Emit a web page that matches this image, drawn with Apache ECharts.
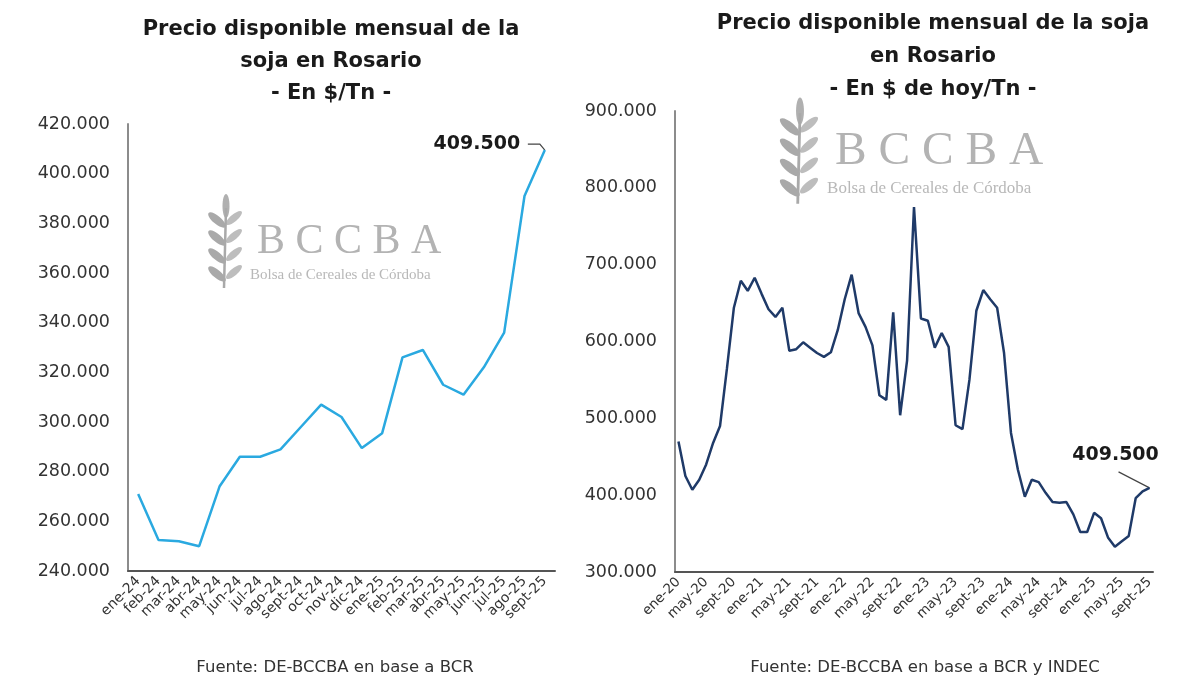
<!DOCTYPE html>
<html>
<head>
<meta charset="utf-8">
<script src="https://cdn.jsdelivr.net/npm/echarts@6/dist/echarts.min.js"></script>
<style>
  html, body { margin: 0; background: #fff; }
  #chart { width: 1200px; height: 686px; }
</style>
</head>
<body>
<div id="chart"></div>
<script>
// panel izquierdo: $/Tn nominal, ene-24 a sept-25
var mesesNominal = ['ene-24', 'feb-24', 'mar-24', 'abr-24', 'may-24', 'jun-24', 'jul-24', 'ago-24', 'sept-24', 'oct-24', 'nov-24', 'dic-24',
  'ene-25', 'feb-25', 'mar-25', 'abr-25', 'may-25', 'jun-25', 'jul-25', 'ago-25', 'sept-25'];
var precioNominal = [271000, 252500, 252000, 250000, 274000, 286000, 286000, 289000, 298000, 307000, 302000, 289500,
  295500, 326000, 329000, 315000, 311000, 322000, 336000, 391000, 409500];

// panel derecho: $ de hoy/Tn, ene-20 a sept-25
var nombresMes = ['ene', 'feb', 'mar', 'abr', 'may', 'jun', 'jul', 'ago', 'sept', 'oct', 'nov', 'dic'];
var mesesReal = [];
for (var a = 20; a <= 25; a++) {
  for (var m = 0; m < 12; m++) {
    if (a == 25 && m > 8) break;
    mesesReal.push(nombresMes[m] + '-' + a);
  }
}
var precioReal = [470000, 425000, 407000, 420000, 440000, 468000, 490000, 565000, 644000, 679000,
  666000, 683000, 662000, 642000, 632000, 644000, 588000, 590000, 599000, 592000,
  585000, 580000, 586000, 615000, 655000, 687000, 637000, 619000, 595000, 530000,
  524000, 638000, 504000, 575000, 775000, 630000, 627000, 592000, 611000, 593000,
  491000, 486000, 550000, 640000, 667000, 655000, 644000, 585000, 481000, 433000,
  398000, 420000, 417000, 403000, 391000, 390000, 391000, 375000, 352000, 352000,
  377000, 370000, 345000, 333000, 340000, 347000, 396000, 405000, 409500];

var fuente = 'DejaVu Sans';

function miles(v) {
  return String(Math.round(v)).replace(/\B(?=(\d{3})+(?!\d))/g, '.');
}

// ultimo punto con etiqueta
function conEtiqueta(datos) {
  return datos.map(function (v, i) {
    if (i < datos.length - 1) return v;
    return { value: v, label: { show: true } };
  });
}

// logo de fondo (espiga + texto)
function logo(x, y, s) {
  var hijos = [];
  for (var k = 0; k < 4; k++) {
    var yy = y + 22 * s + k * 18 * s;
    hijos.push({ type: 'ellipse', shape: { cx: x - 9 * s, cy: yy, rx: 11 * s, ry: 4 * s }, rotation: -0.7, originX: x - 9 * s, originY: yy, style: { fill: '#a9a9a9' } });
    hijos.push({ type: 'ellipse', shape: { cx: x + 8 * s, cy: yy - 2 * s, rx: 10 * s, ry: 3.5 * s }, rotation: 0.7, originX: x + 8 * s, originY: yy - 2 * s, style: { fill: '#bdbdbd' } });
  }
  hijos.push({ type: 'ellipse', shape: { cx: x, cy: y + 8 * s, rx: 3.5 * s, ry: 12 * s }, style: { fill: '#b0b0b0' } });
  hijos.push({ type: 'line', shape: { x1: x, y1: y + 10 * s, x2: x - 2 * s, y2: y + 90 * s }, style: { stroke: '#a9a9a9', lineWidth: 2.5 * s } });
  hijos.push({ type: 'text', style: { text: 'B C C B A', x: x + 31 * s, y: y + 44 * s, font: (42 * s) + 'px "Liberation Serif"', fill: '#b3b3b3', textVerticalAlign: 'middle' } });
  hijos.push({ type: 'text', style: { text: 'Bolsa de Cereales de Córdoba', x: x + 24 * s, y: y + 77 * s, font: (15 * s) + 'px "Liberation Serif"', fill: '#b8b8b8', textVerticalAlign: 'middle' } });
  return { type: 'group', silent: true, z: -1, children: hijos };
}

var chart = echarts.init(document.getElementById('chart'));

var ejeX = function (datos, intervalo, tam) {
  return {
    type: 'category',
    data: datos,
    boundaryGap: true,
    axisLine: { lineStyle: { color: '#555', width: 2 } },
    axisTick: { show: false },
    axisLabel: { interval: intervalo, rotate: 45, fontSize: tam, color: '#333', fontFamily: fuente, margin: 8 }
  };
};
var ejeY = function (min, max, paso) {
  return {
    type: 'value',
    min: min, max: max, interval: paso,
    axisLine: { show: true, lineStyle: { color: '#8c8c8c', width: 2 } },
    axisTick: { show: false },
    splitLine: { show: false },
    axisLabel: { fontSize: 17.5, color: '#333', fontFamily: fuente, margin: 18, formatter: miles }
  };
};

var etiqueta = {
  show: false,
  position: 'top',
  formatter: function (p) { return miles(p.value); },
  fontSize: 19, fontWeight: 'bold', color: '#1a1a1a', fontFamily: fuente
};

var graficos = [
  logo(226, 198, 1),
  logo(800, 102, 1.13),
  { type: 'text', style: { text: 'Precio disponible mensual de la\nsoja en Rosario\n- En $/Tn -', x: 331, y: 14, textAlign: 'center', font: 'bold 21px "DejaVu Sans"', lineHeight: 32, fill: '#1a1a1a' } },
  { type: 'text', style: { text: 'Precio disponible mensual de la soja\nen Rosario\n- En $ de hoy/Tn -', x: 933, y: 7, textAlign: 'center', font: 'bold 21px "DejaVu Sans"', lineHeight: 33, fill: '#1a1a1a' } },
  { type: 'text', style: { text: 'Fuente: DE-BCCBA en base a BCR', x: 335, y: 668, textAlign: 'center', textVerticalAlign: 'middle', font: '16.5px "DejaVu Sans"', fill: '#333' } },
  { type: 'text', style: { text: 'Fuente: DE-BCCBA en base a BCR y INDEC', x: 925, y: 668, textAlign: 'center', textVerticalAlign: 'middle', font: '16.5px "DejaVu Sans"', fill: '#333' } }
];

var opcion = {
  animation: false,
  grid: [
    { left: 128, top: 124, width: 427, height: 447 },
    { left: 675, top: 111, width: 478, height: 461 }
  ],
  xAxis: [
    Object.assign(ejeX(mesesNominal, 0, 14), { gridIndex: 0 }),
    Object.assign(ejeX(mesesReal, 3, 13.5), { gridIndex: 1 })
  ],
  yAxis: [
    Object.assign(ejeY(240000, 420000, 20000), { gridIndex: 0 }),
    Object.assign(ejeY(300000, 900000, 100000), { gridIndex: 1 })
  ],
  series: [
    {
      type: 'line', xAxisIndex: 0, yAxisIndex: 0,
      data: conEtiqueta(precioNominal),
      symbol: 'circle', symbolSize: 0, showSymbol: true,
      lineStyle: { color: '#2aa9e0', width: 2.5 },
      label: etiqueta,
      labelLayout: { dx: -68, dy: 8 }
    },
    {
      type: 'line', xAxisIndex: 1, yAxisIndex: 1,
      data: conEtiqueta(precioReal),
      symbol: 'circle', symbolSize: 0, showSymbol: true,
      lineStyle: { color: '#1f3a68', width: 2.5 },
      label: etiqueta,
      labelLayout: { dx: -34, dy: -18 }
    }
  ],
  graphic: graficos
};
chart.setOption(opcion);

// lineas guia de las etiquetas, ancladas al ultimo punto
var nL = precioNominal.length - 1;
var nR = precioReal.length - 1;
var pL = chart.convertToPixel({ xAxisIndex: 0, yAxisIndex: 0 }, [nL, precioNominal[nL]]);
var pR = chart.convertToPixel({ xAxisIndex: 1, yAxisIndex: 1 }, [nR, precioReal[nR]]);
graficos.push({ type: 'polyline', shape: { points: [[pL[0] - 17, pL[1] - 6], [pL[0] - 5, pL[1] - 6], [pL[0], pL[1]]] }, style: { stroke: '#444', lineWidth: 1.2, fill: null } });
graficos.push({ type: 'line', shape: { x1: pR[0] - 31, y1: pR[1] - 16, x2: pR[0], y2: pR[1] }, style: { stroke: '#444', lineWidth: 1.2 } });
chart.setOption({ graphic: graficos }, { replaceMerge: ['graphic'] });
</script>
</body>
</html>
